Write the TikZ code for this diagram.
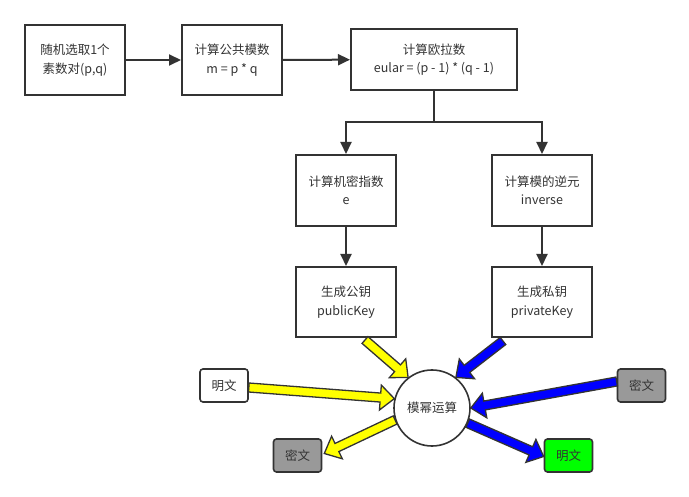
\documentclass[tikz,border=0pt]{standalone}
\usepackage{fontspec}
\setmainfont{Noto Sans CJK SC}
\usetikzlibrary{arrows.meta,calc}
\definecolor{ln}{HTML}{333333}
\definecolor{gr}{HTML}{999999}
\definecolor{lime}{HTML}{00FF00}
\definecolor{yel}{HTML}{FFFF00}
\definecolor{blu}{HTML}{0000FF}
\newcommand\fatarrow[3]{%
  \coordinate (fa1) at (#1);
  \coordinate (fa2) at (#2);
  \coordinate (fah) at ($(fa2)!14pt!(fa1)$);
  \filldraw[fill=#3,draw=ln,line width=1.3pt,line join=miter]
   ($(fa1)!4.5pt!90:(fa2)$) -- ($(fah)!4.5pt!-90:(fa1)$) -- ($(fah)!12.5pt!-90:(fa1)$) -- (fa2)
   -- ($(fah)!12.5pt!90:(fa1)$) -- ($(fah)!4.5pt!90:(fa1)$) -- ($(fa1)!4.5pt!-90:(fa2)$) -- cycle;}
\tikzset{
  box/.style={draw=ln,line width=2pt,fill=white,inner sep=0pt,align=center,text=ln,
    font=\fontsize{12.5}{18.5}\selectfont},
  small/.style={draw=ln,line width=1.6pt,rounded corners=3pt,inner sep=0pt,text=ln,
    minimum width=48pt,minimum height=33pt,font=\fontsize{12.5}{15}\selectfont},
  conn/.style={draw=ln,line width=2pt,-{Triangle[length=12pt,width=11pt]}},
}
\begin{document}
\begin{tikzpicture}[x=1pt,y=-1pt]
\useasboundingbox (0,0) rectangle (689,497);
\node[box,minimum width=100pt,minimum height=70pt] (b1) at (75,60) {随机选取1个\\素数对(p,q)};
\node[box,minimum width=100pt,minimum height=70pt] (b2) at (232,60) {计算公共模数\\m = p * q};
\node[box,minimum width=166pt,minimum height=61pt] (b3) at (434,59.5) {计算欧拉数\\eular = (p - 1) * (q - 1)};
\node[box,minimum width=100pt,minimum height=71pt] (b4) at (346,190.5) {计算机密指数\\e};
\node[box,minimum width=100pt,minimum height=71pt] (b5) at (542,190.5) {计算模的逆元\\inverse};
\node[box,minimum width=100pt,minimum height=70pt] (b6) at (346,302) {生成公钥\\publicKey};
\node[box,minimum width=100pt,minimum height=70pt] (b7) at (542,302) {生成私钥\\privateKey};
\node[circle,draw=ln,line width=1.6pt,minimum size=76pt,inner sep=0pt,text=ln,
  font=\fontsize{12.5}{15}\selectfont] (mod) at (432,408) {模幂运算};
\node[small,fill=white] (pt1) at (224,385.5) {明文};
\node[small,fill=gr] (ct1) at (297.5,455.5) {密文};
\node[small,fill=gr] (ct2) at (641.5,385.5) {密文};
\node[small,fill=lime] (pt2) at (568.5,455.5) {明文};
\coordinate (j) at (434,122);
\draw[conn] (b1) -- (b2);
\draw[conn] (b2) -- (b3);
\draw[draw=ln,line width=2pt] (b3.south) -- (j);
\draw[conn] (j) -| (b4.north);
\draw[conn] (j) -| (b5.north);
\draw[conn] (b4) -- (b6);
\draw[conn] (b5) -- (b7);
\fatarrow{$(b6.south)+(19,2)$}{mod.128}{yel}
\fatarrow{$(pt1.east)+(0,2)$}{mod.166}{yel}
\fatarrow{mod.198}{$(ct1.east)+(2,-2)$}{yel}
\fatarrow{$(b7.south)+(-39,3)$}{mod.52}{blu}
\fatarrow{$(ct2.west)+(0,-4)$}{mod.0}{blu}
\fatarrow{mod.-23}{$(pt2.west)+(0,1)$}{blu}
\end{tikzpicture}
\end{document}
